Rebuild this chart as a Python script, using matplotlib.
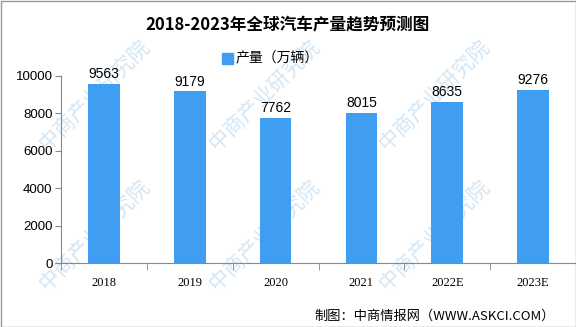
import numpy as np
import matplotlib.pyplot as plt

years = ['2018', '2019', '2020', '2021', '2022E', '2023E']
output = [9563, 9179, 7762, 8015, 8635, 9276]
y_ticks = [0, 2000, 4000, 6000, 8000, 10000]

plt.rcParams['font.family'] = ['Noto Sans CJK SC', 'DejaVu Sans']

fig = plt.figure(figsize=(5.76, 3.27), dpi=100)
ax = fig.add_axes([61 / 576, 64 / 327, 515 / 576, 187 / 327])
ax.patch.set_alpha(0)

x = np.arange(len(years))
bar_color = '#3f9ef2'
ax.bar(x, output, width=0.37, color=bar_color, zorder=2)
for xi, v in zip(x, output):
    ax.text(xi, v + 150, str(v), ha='center', va='bottom', fontsize=10,
            family=['Liberation Sans'], clip_on=False)

ax.set_xlim(-0.5, len(years) - 0.5)
ax.set_ylim(0, 10000)
ax.set_yticks(y_ticks)
ax.set_yticklabels([str(t) for t in y_ticks], family=['Liberation Sans'], fontsize=9.5)
ax.set_xticks(x)
ax.set_xticklabels(years, family=['Liberation Serif'], fontsize=9)
ax.set_xticks(np.arange(-0.5, len(years)), minor=True)
ax.tick_params(axis='x', which='major', length=0, pad=10)
ax.tick_params(axis='x', which='minor', length=5, color='#888888')
ax.tick_params(axis='y', length=4, color='#888888', pad=2)
for s in ['top', 'right']:
    ax.spines[s].set_visible(False)
ax.spines['left'].set_color('#888888')
ax.spines['bottom'].set_color('#888888')

fig.text(0.5, 1 - 25 / 327, '2018-2023年全球汽车产量趋势预测图', ha='center', va='center',
         fontsize=12, fontweight='bold')
fig.patches.append(plt.Rectangle((222 / 576, 1 - 64 / 327), 11 / 576, 11 / 327,
                                 transform=fig.transFigure, color=bar_color))
fig.text(236 / 576, 1 - 58 / 327, '产量（万辆）', ha='left', va='center', fontsize=10)
fig.text(555 / 576, 1 - 316 / 327, '制图：中商情报网（WWW.ASKCI.COM）', ha='right', va='center',
         fontsize=9.5)

# faint diagonal watermark tiled behind the bars
for wx in [95, 265, 435]:
    for wy in [95, 235]:
        fig.text(wx / 576, 1 - wy / 327, '中商产业研究院', rotation=45,
                 ha='center', va='center', fontsize=15, color='#d3e6f5', zorder=-1)

fig.patches.append(plt.Rectangle((0.5 / 576, 0.5 / 327), 575 / 576, 326 / 327,
                                 transform=fig.transFigure, fill=False, edgecolor='#999999', lw=1))

fig.savefig('out.png', dpi=100)
